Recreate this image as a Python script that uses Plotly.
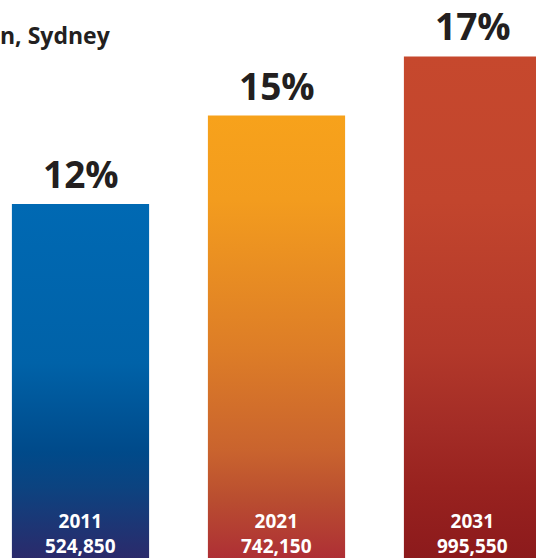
import plotly.graph_objects as go

years = ['2011', '2021', '2031']
shares = [12, 15, 17]
people = ['524,850', '742,150', '995,550']

# vertical gradients, bottom (0) to top (1)
gradients = [
    [[0, '#2b2a6b'], [0.2, '#0c4380'], [0.3, '#004a8a'], [0.55, '#0062a8'], [1, '#0069b3']],
    [[0, '#ae2f35'], [0.13, '#b94d30'], [0.24, '#c9632e'], [0.47, '#dd7d27'], [0.81, '#f39c1e'], [1, '#f7a21b']],
    [[0, '#8c1a1c'], [0.14, '#98221f'], [0.26, '#a32c26'], [0.41, '#b2382a'], [0.71, '#c2452d'], [1, '#c6482d']],
]

half = 0.35
fig = go.Figure()
for i, (yr, v) in enumerate(zip(years, shares)):
    fig.add_trace(go.Scatter(
        x=[i - half, i - half, i + half, i + half, i - half],
        y=[0, v, v, 0, 0],
        mode='lines', line=dict(width=0), fill='toself',
        fillgradient=dict(type='vertical', colorscale=gradients[i]),
        hoverinfo='skip', showlegend=False))
    fig.add_annotation(x=i, y=v, text=f'<b>{v}%</b>', showarrow=False,
                       yanchor='bottom', yshift=3,
                       font=dict(family='Open Sans', size=37, color='#231f20'))
    fig.add_annotation(x=i, y=0, text=f'<b>{yr}<br>{people[i]}</b>', showarrow=False,
                       yanchor='bottom', yshift=-3,
                       font=dict(family='Open Sans', size=19, color='white'))

fig.add_annotation(xref='paper', yref='paper', x=0, y=0.937, xanchor='left', yanchor='middle',
                   xshift=-2, text='<b>n, Sydney</b>', showarrow=False,
                   font=dict(family='Open Sans', size=23, color='#231f20'))

fig.update_xaxes(range=[-80.5 / 196, (536 - 80.5) / 196], visible=False, fixedrange=True)
fig.update_yaxes(range=[0, 558 / 29.5], visible=False, fixedrange=True)
fig.update_layout(width=536, height=558, margin=dict(l=0, r=0, t=0, b=0),
                  plot_bgcolor='white', paper_bgcolor='white')

# drop the default page margin so the figure sits at the window corner
fig.write_html('out.html', config={'displayModeBar': False},
               post_script="document.body.style.margin='0';")
